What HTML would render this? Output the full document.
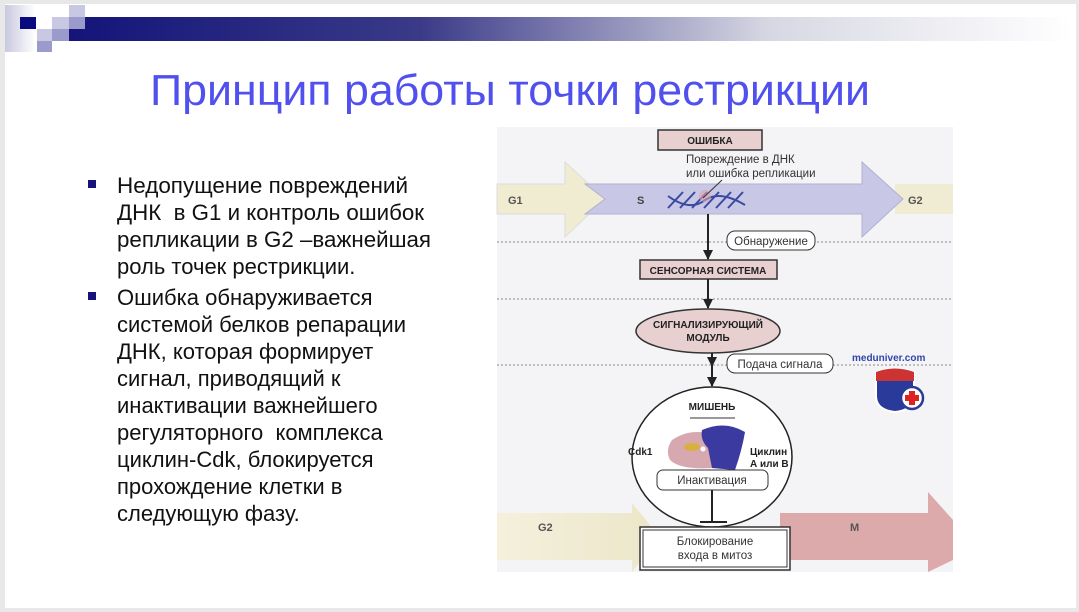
<!DOCTYPE html>
<html><head><meta charset="utf-8"><style>
html,body{margin:0;padding:0;background:#fff;}
svg{display:block;}
text{font-family:"Liberation Sans",sans-serif;}
</style></head><body>
<svg width="1079" height="612" viewBox="0 0 1079 612" xmlns="http://www.w3.org/2000/svg">
<defs>
<linearGradient id="bar" x1="0" x2="1" y1="0" y2="0">
<stop offset="0" stop-color="#14147a"/><stop offset="0.35" stop-color="#3a3a88"/><stop offset="0.7" stop-color="#d8d8e4"/><stop offset="1" stop-color="#ffffff"/>
</linearGradient>
<linearGradient id="lf" x1="0" x2="1"><stop offset="0" stop-color="#c8c8e0"/><stop offset="1" stop-color="#fff"/></linearGradient>
<linearGradient id="g2" x1="0" x2="1"><stop offset="0" stop-color="#f4f0dc"/><stop offset="1" stop-color="#ece6c8"/></linearGradient>
<marker id="ah" markerUnits="userSpaceOnUse" markerWidth="10" markerHeight="10" refX="9" refY="5" orient="auto"><path d="M0,0 L10,5 L0,10 z" fill="#222"/></marker>
</defs>
<rect x="0" y="0" width="1079" height="612" fill="#e8e8e8"/>
<rect x="5" y="4" width="1071" height="604" fill="#fff"/>
<!-- header -->
<rect x="5" y="5" width="30" height="47" fill="url(#lf)"/>
<rect x="68" y="17" width="1005" height="24" fill="url(#bar)"/>
<rect x="69" y="5" width="16" height="12" fill="#c8c8e2"/>
<rect x="52" y="17" width="17" height="12" fill="#c8c8e2"/>
<rect x="69" y="17" width="16" height="12" fill="#9a9acc"/>
<rect x="20" y="17" width="16" height="12" fill="#0a0a80"/>
<rect x="37" y="29" width="15" height="12" fill="#c8c8e2"/>
<rect x="52" y="29" width="17" height="12" fill="#9a9acc"/>
<rect x="37" y="41" width="15" height="11" fill="#9a9acc"/>
<!-- title -->
<text x="510" y="105" font-size="44" fill="#5050ee" text-anchor="middle" textLength="720" lengthAdjust="spacingAndGlyphs">Принцип работы точки рестрикции</text>
<!-- bullets -->
<rect x="88" y="180" width="8" height="8" fill="#14147a"/>
<rect x="88" y="292" width="8" height="8" fill="#14147a"/>
<g font-size="22" fill="#111">
<text x="117" y="193" textLength="291" lengthAdjust="spacingAndGlyphs">Недопущение повреждений</text>
<text x="117" y="220" xml:space="preserve" textLength="307" lengthAdjust="spacingAndGlyphs">ДНК  в G1 и контроль ошибок</text>
<text x="117" y="247" textLength="314" lengthAdjust="spacingAndGlyphs">репликации в G2 –важнейшая</text>
<text x="117" y="274">роль точек рестрикции.</text>
<text x="117" y="305">Ошибка обнаруживается</text>
<text x="117" y="332">системой белков репарации</text>
<text x="117" y="359">ДНК, которая формирует</text>
<text x="117" y="386">сигнал, приводящий к</text>
<text x="117" y="413">инактивации важнейшего</text>
<text x="117" y="440" xml:space="preserve">регуляторного  комплекса</text>
<text x="117" y="467">циклин-Cdk, блокируется</text>
<text x="117" y="494">прохождение клетки в</text>
<text x="117" y="521">следующую фазу.</text>
</g>
<!-- diagram -->
<rect x="497" y="127" width="456" height="445" fill="#f4f4f6"/>
<rect x="895" y="184" width="58" height="30" fill="#f0ecd4"/>
<path d="M497,184 L565,184 L565,162 L605,199 L565,237 L565,214 L497,214 z" fill="#f0ecd2" stroke="#ddd" stroke-width="1"/>
<path d="M585,184 L862,184 L862,162 L903,199 L862,237 L862,214 L585,214 L605,199 z" fill="#c8c8e6" stroke="#b0b0d0" stroke-width="1"/>
<text x="508" y="204" font-size="11" font-weight="bold" fill="#555">G1</text>
<text x="637" y="204" font-size="11" font-weight="bold" fill="#444">S</text>
<text x="908" y="204" font-size="11" font-weight="bold" fill="#555">G2</text>
<g stroke="#3a4aa0" stroke-width="2" fill="none">
<path d="M668,208 L683,192 M680,208 L695,192 M692,208 L707,192 M704,208 L719,192 M716,208 L731,192 M728,208 L743,192"/>
<path d="M668,196 Q690,212 705,200 Q720,190 745,205"/>
</g>
<circle cx="705" cy="196" r="6" fill="#e0a0b0" opacity="0.6"/>
<line x1="703" y1="198" x2="722" y2="180" stroke="#333" stroke-width="1"/>
<rect x="658" y="130" width="104" height="20" fill="#e8d0d0" stroke="#333" stroke-width="1.5"/>
<text x="710" y="144" font-size="10" font-weight="bold" fill="#222" text-anchor="middle">ОШИБКА</text>
<text x="686" y="163" font-size="11.5" fill="#333">Повреждение в ДНК</text>
<text x="686" y="177" font-size="11.5" fill="#333">или ошибка репликации</text>
<g stroke="#888" stroke-width="1" stroke-dasharray="2,2">
<line x1="497" y1="242" x2="953" y2="242"/>
<line x1="497" y1="299" x2="953" y2="299"/>
<line x1="497" y1="365" x2="953" y2="365"/>
</g>
<line x1="708" y1="214" x2="708" y2="259" stroke="#222" stroke-width="2" marker-end="url(#ah)"/>
<rect x="727" y="231" width="88" height="19" rx="8" fill="#fff" stroke="#333"/>
<text x="771" y="245" font-size="11.5" fill="#333" text-anchor="middle">Обнаружение</text>
<rect x="640" y="260" width="137" height="19" fill="#e8d0d0" stroke="#333" stroke-width="1.5"/>
<text x="708" y="274" font-size="10" font-weight="bold" fill="#222" text-anchor="middle">СЕНСОРНАЯ СИСТЕМА</text>
<line x1="708" y1="279" x2="708" y2="308" stroke="#222" stroke-width="2" marker-end="url(#ah)"/>
<ellipse cx="708" cy="331" rx="72" ry="22" fill="#e8d0d0" stroke="#333" stroke-width="1.5"/>
<text x="708" y="328" font-size="10" font-weight="bold" fill="#222" text-anchor="middle">СИГНАЛИЗИРУЮЩИЙ</text>
<text x="708" y="341" font-size="10" font-weight="bold" fill="#222" text-anchor="middle">МОДУЛЬ</text>
<line x1="712" y1="353" x2="712" y2="366" stroke="#222" stroke-width="2" marker-end="url(#ah)"/>
<line x1="712" y1="366" x2="712" y2="386" stroke="#222" stroke-width="2" marker-end="url(#ah)"/>
<rect x="727" y="354" width="106" height="19" rx="8" fill="#fff" stroke="#333"/>
<text x="780" y="368" font-size="11.5" fill="#333" text-anchor="middle">Подача сигнала</text>
<text x="852" y="361" font-size="10" font-weight="bold" fill="#3344aa">meduniver.com</text>
<path d="M876,372 Q895,365 914,372 L914,396 Q914,410 895,412 Q876,410 876,396 z" fill="#2a3a9a" stroke="#fff" stroke-width="2"/>
<path d="M876,372 Q895,365 914,372 L914,381 L876,381 z" fill="#cc3333"/>
<circle cx="912" cy="398" r="11" fill="#fff" stroke="#2a3a9a" stroke-width="2.5"/>
<path d="M909,391h6v4h4v6h-4v4h-6v-4h-4v-6h4z" fill="#dd2222"/>
<!-- bottom arrows -->
<path d="M497,513 L632,513 L632,503 L660,537 L632,572 L632,560 L497,560 z" fill="url(#g2)"/>
<path d="M780,513 L928,513 L928,492 L953,520 L953,560 L928,572 L928,560 L780,560 z" fill="#dcaaaa"/>
<ellipse cx="712" cy="457" rx="80" ry="70" fill="#fff" stroke="#222" stroke-width="1.5"/>
<text x="538" y="531" font-size="11" font-weight="bold" fill="#555">G2</text>
<text x="850" y="531" font-size="11" font-weight="bold" fill="#555">M</text>
<text x="712" y="410" font-size="10" font-weight="bold" fill="#222" text-anchor="middle">МИШЕНЬ</text>
<line x1="690" y1="418" x2="735" y2="418" stroke="#333"/>
<path d="M672,440 Q690,428 710,434 L712,468 Q680,470 670,460 Q665,450 672,440 z" fill="#d8a8b0"/>
<path d="M702,430 Q725,420 745,432 Q742,450 735,470 L712,468 L708,448 Q700,440 702,430 z" fill="#3a3aa0"/>
<ellipse cx="692" cy="447" rx="8" ry="4" fill="#d8b040"/>
<circle cx="703" cy="449" r="2.5" fill="#fff"/>
<text x="628" y="455" font-size="10" font-weight="bold" fill="#222">Cdk1</text>
<text x="750" y="455" font-size="10" font-weight="bold" fill="#222">Циклин</text>
<text x="750" y="467" font-size="10" font-weight="bold" fill="#222">А или В</text>
<rect x="657" y="470" width="111" height="20" rx="6" fill="#fff" stroke="#333"/>
<text x="712" y="484" font-size="11.5" fill="#333" text-anchor="middle">Инактивация</text>
<line x1="712" y1="490" x2="712" y2="522" stroke="#222" stroke-width="2"/>
<line x1="700" y1="522" x2="727" y2="522" stroke="#222" stroke-width="2"/>
<rect x="640" y="527" width="150" height="43" fill="#fff" stroke="#333" stroke-width="1.5"/>
<rect x="643" y="530" width="144" height="37" fill="none" stroke="#333" stroke-width="1"/>
<text x="715" y="545" font-size="11.5" fill="#333" text-anchor="middle">Блокирование</text>
<text x="715" y="559" font-size="11.5" fill="#333" text-anchor="middle">входа в митоз</text>
</svg>
</body></html>
